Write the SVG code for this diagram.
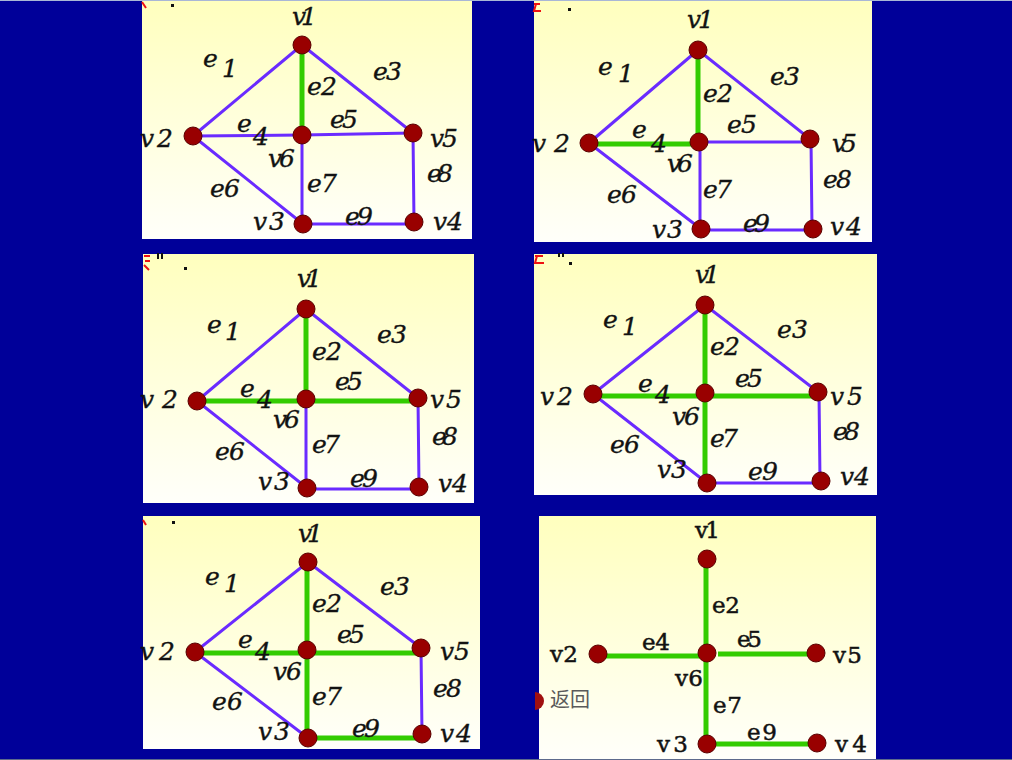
<svg xmlns="http://www.w3.org/2000/svg" width="1012" height="760" viewBox="0 0 1012 760">
<defs>
<linearGradient id="bg" x1="0" y1="0" x2="0" y2="1">
<stop offset="0" stop-color="#ffffbe"/>
<stop offset="1" stop-color="#fffffa"/>
</linearGradient>
<clipPath id="btnclip"><rect x="535" y="680" width="12" height="40"/></clipPath>
<style>
.pnl{fill:url(#bg)}
.pu{stroke:#6a2bff;stroke-width:3;stroke-linecap:round}
.pg{stroke:#33cc00;stroke-width:5}
.nd{fill:#990000;stroke:#5a0000;stroke-width:1}
.lb{font-family:"DejaVu Serif","Liberation Serif",serif;font-style:italic;font-size:25px;fill:#121212;stroke:#121212;stroke-width:0.35}
.lr{font-family:"DejaVu Serif","Liberation Serif",serif;font-size:23px;fill:#121212;stroke:#121212;stroke-width:0.5}
.bk{fill:#111}
</style>
</defs>
<rect x="0" y="0" width="1012" height="760" fill="#000099"/>
<rect x="0" y="0" width="1012" height="1" fill="#a9b7d6"/>
<rect x="0" y="759" width="1012" height="1" fill="#5d6a8c"/>

<!-- panels -->
<rect class="pnl" x="142" y="1" width="330" height="238"/>
<rect class="pnl" x="534" y="1" width="338" height="241"/>
<rect class="pnl" x="143" y="254" width="331" height="249"/>
<rect class="pnl" x="534" y="254" width="343" height="241"/>
<rect class="pnl" x="143" y="516" width="337" height="233"/>
<rect class="pnl" x="539" y="516" width="337" height="243"/>

<!-- cropped fragments -->
<g id="fragments">
<path d="M142 2 L146 8" stroke="#ee1111" stroke-width="2"/>
<rect class="bk" x="171" y="4" width="3" height="3"/>
<path d="M534 4 L540 4 M536 4 L534 11 L541 11" stroke="#ee1111" stroke-width="2" fill="none"/>
<rect class="bk" x="568" y="8" width="3" height="3"/>
<path d="M144 256 L150 256 M145 261 L150 261 M144 265 L149 270" stroke="#ee1111" stroke-width="2" fill="none"/>
<rect class="bk" x="157" y="253" width="2" height="6"/>
<rect class="bk" x="161" y="253" width="2" height="6"/>
<rect class="bk" x="184" y="267" width="3" height="3"/>
<path d="M535 256 L543 256 M537 256 L535 263 L544 263" stroke="#ee1111" stroke-width="2" fill="none"/>
<rect class="bk" x="558" y="253" width="2" height="4"/>
<rect class="bk" x="562" y="253" width="2" height="4"/>
<rect class="bk" x="569" y="262" width="3" height="3"/>
<path d="M143 520 L146 525" stroke="#ee1111" stroke-width="2"/>
<rect class="bk" x="172" y="521" width="3" height="3"/>
</g>

<!-- connectors -->
<g id="connectors">
<!-- panel 1 -->
<line class="pu" x1="193" y1="136" x2="302" y2="45"/>
<line class="pu" x1="302" y1="45" x2="413" y2="133"/>
<line class="pu" x1="193" y1="136" x2="302" y2="135"/>
<line class="pu" x1="302" y1="135" x2="413" y2="133"/>
<line class="pu" x1="193" y1="136" x2="303" y2="224"/>
<line class="pu" x1="302" y1="135" x2="302" y2="224"/>
<line class="pu" x1="413" y1="133" x2="414" y2="222"/>
<line class="pu" x1="303" y1="224" x2="414" y2="224"/>
<line class="pg" x1="302" y1="45" x2="302" y2="135"/>
<!-- panel 2 -->
<line class="pu" x1="589" y1="143" x2="698" y2="50"/>
<line class="pu" x1="698" y1="50" x2="810" y2="139"/>
<line class="pu" x1="699" y1="142" x2="810" y2="142"/>
<line class="pu" x1="589" y1="143" x2="701" y2="229"/>
<line class="pu" x1="700" y1="142" x2="700" y2="229"/>
<line class="pu" x1="811" y1="139" x2="812" y2="229"/>
<line class="pu" x1="701" y1="230" x2="813" y2="230"/>
<line class="pg" x1="698" y1="50" x2="698" y2="142"/>
<line class="pg" x1="589" y1="144" x2="699" y2="144"/>
<!-- panel 3 -->
<line class="pu" x1="197" y1="401" x2="306" y2="309"/>
<line class="pu" x1="306" y1="309" x2="418" y2="398"/>
<line class="pu" x1="197" y1="401" x2="307" y2="488"/>
<line class="pu" x1="306" y1="399" x2="306" y2="488"/>
<line class="pu" x1="418" y1="398" x2="419" y2="487"/>
<line class="pu" x1="307" y1="489" x2="419" y2="489"/>
<line class="pg" x1="306" y1="309" x2="306" y2="399"/>
<line class="pg" x1="197" y1="401" x2="306" y2="401"/>
<line class="pg" x1="306" y1="401" x2="418" y2="401"/>
<!-- panel 4 -->
<line class="pu" x1="593" y1="394" x2="705" y2="305"/>
<line class="pu" x1="705" y1="305" x2="818" y2="392"/>
<line class="pu" x1="593" y1="394" x2="707" y2="483"/>
<line class="pu" x1="819" y1="392" x2="820" y2="481"/>
<line class="pu" x1="707" y1="483" x2="821" y2="483"/>
<line class="pg" x1="705" y1="305" x2="705" y2="393"/>
<line class="pg" x1="593" y1="396" x2="705" y2="396"/>
<line class="pg" x1="705" y1="396" x2="818" y2="396"/>
<line class="pg" x1="705" y1="393" x2="705" y2="483"/>
<!-- panel 5 -->
<line class="pu" x1="195" y1="652" x2="308" y2="562"/>
<line class="pu" x1="308" y1="562" x2="421" y2="648"/>
<line class="pu" x1="195" y1="652" x2="308" y2="738"/>
<line class="pu" x1="421" y1="648" x2="422" y2="734"/>
<line class="pg" x1="307" y1="562" x2="307" y2="650"/>
<line class="pg" x1="195" y1="653" x2="307" y2="653"/>
<line class="pg" x1="307" y1="653" x2="421" y2="653"/>
<line class="pg" x1="307" y1="650" x2="307" y2="738"/>
<line class="pg" x1="308" y1="738" x2="422" y2="738"/>
<!-- panel 6 -->
<line class="pg" x1="706" y1="559" x2="706" y2="653"/>
<line class="pg" x1="598" y1="656" x2="706" y2="656"/>
<line class="pg" x1="718" y1="654" x2="816" y2="654"/>
<line class="pg" x1="706" y1="653" x2="706" y2="744"/>
<line class="pg" x1="707" y1="744" x2="817" y2="744"/>
</g>

<!-- nodes -->
<g id="p1-v1"><circle class="nd" cx="302" cy="45" r="9"/><text class="lb" x="292" y="25" textLength="25" lengthAdjust="spacing">v1</text></g>
<g id="p1-v2"><circle class="nd" cx="193" cy="136" r="9"/><text class="lb" x="140" y="147" textLength="33" lengthAdjust="spacing">v2</text></g>
<g id="p1-v6"><circle class="nd" cx="302" cy="135" r="9"/><text class="lb" x="268" y="167" textLength="27" lengthAdjust="spacing">v6</text></g>
<g id="p1-v5"><circle class="nd" cx="413" cy="133" r="9"/><text class="lb" x="430" y="147" textLength="28" lengthAdjust="spacing">v5</text></g>
<g id="p1-v3"><circle class="nd" cx="303" cy="224" r="9"/><text class="lb" x="253" y="230" textLength="32" lengthAdjust="spacing">v3</text></g>
<g id="p1-v4"><circle class="nd" cx="414" cy="222" r="9"/><text class="lb" x="433" y="230" textLength="30" lengthAdjust="spacing">v4</text></g>

<g id="p2-v1"><circle class="nd" cx="698" cy="50" r="9"/><text class="lb" x="687" y="28" textLength="27" lengthAdjust="spacing">v1</text></g>
<g id="p2-v2"><circle class="nd" cx="589" cy="143" r="9"/><text class="lb" x="532" y="152" textLength="38" lengthAdjust="spacing">v2</text></g>
<g id="p2-v6"><circle class="nd" cx="699" cy="142" r="9"/><text class="lb" x="667" y="172" textLength="26" lengthAdjust="spacing">v6</text></g>
<g id="p2-v5"><circle class="nd" cx="810" cy="139" r="9"/><text class="lb" x="832" y="152" textLength="25" lengthAdjust="spacing">v5</text></g>
<g id="p2-v3"><circle class="nd" cx="701" cy="229" r="9"/><text class="lb" x="652" y="238" textLength="31" lengthAdjust="spacing">v3</text></g>
<g id="p2-v4"><circle class="nd" cx="813" cy="229" r="9"/><text class="lb" x="830" y="235" textLength="32" lengthAdjust="spacing">v4</text></g>

<g id="p3-v1"><circle class="nd" cx="306" cy="309" r="9"/><text class="lb" x="297" y="287" textLength="25" lengthAdjust="spacing">v1</text></g>
<g id="p3-v2"><circle class="nd" cx="197" cy="401" r="9"/><text class="lb" x="140" y="408" textLength="38" lengthAdjust="spacing">v2</text></g>
<g id="p3-v6"><circle class="nd" cx="306" cy="399" r="9"/><text class="lb" x="273" y="428" textLength="27" lengthAdjust="spacing">v6</text></g>
<g id="p3-v5"><circle class="nd" cx="418" cy="398" r="9"/><text class="lb" x="430" y="408" textLength="32" lengthAdjust="spacing">v5</text></g>
<g id="p3-v3"><circle class="nd" cx="307" cy="488" r="9"/><text class="lb" x="258" y="490" textLength="32" lengthAdjust="spacing">v3</text></g>
<g id="p3-v4"><circle class="nd" cx="419" cy="487" r="9"/><text class="lb" x="438" y="492" textLength="30" lengthAdjust="spacing">v4</text></g>

<g id="p4-v1"><circle class="nd" cx="705" cy="305" r="9"/><text class="lb" x="695" y="283" textLength="25" lengthAdjust="spacing">v1</text></g>
<g id="p4-v2"><circle class="nd" cx="593" cy="394" r="9"/><text class="lb" x="540" y="405" textLength="33" lengthAdjust="spacing">v2</text></g>
<g id="p4-v6"><circle class="nd" cx="705" cy="393" r="9"/><text class="lb" x="672" y="425" textLength="28" lengthAdjust="spacing">v6</text></g>
<g id="p4-v5"><circle class="nd" cx="818" cy="392" r="9"/><text class="lb" x="830" y="405" textLength="33" lengthAdjust="spacing">v5</text></g>
<g id="p4-v3"><circle class="nd" cx="707" cy="483" r="9"/><text class="lb" x="657" y="478" textLength="30" lengthAdjust="spacing">v3</text></g>
<g id="p4-v4"><circle class="nd" cx="821" cy="481" r="9"/><text class="lb" x="840" y="485" textLength="30" lengthAdjust="spacing">v4</text></g>

<g id="p5-v1"><circle class="nd" cx="308" cy="562" r="9"/><text class="lb" x="298" y="542" textLength="25" lengthAdjust="spacing">v1</text></g>
<g id="p5-v2"><circle class="nd" cx="195" cy="652" r="9"/><text class="lb" x="140" y="660" textLength="35" lengthAdjust="spacing">v2</text></g>
<g id="p5-v6"><circle class="nd" cx="307" cy="650" r="9"/><text class="lb" x="273" y="680" textLength="29" lengthAdjust="spacing">v6</text></g>
<g id="p5-v5"><circle class="nd" cx="421" cy="648" r="9"/><text class="lb" x="440" y="660" textLength="30" lengthAdjust="spacing">v5</text></g>
<g id="p5-v3"><circle class="nd" cx="308" cy="738" r="9"/><text class="lb" x="258" y="740" textLength="32" lengthAdjust="spacing">v3</text></g>
<g id="p5-v4"><circle class="nd" cx="422" cy="734" r="9"/><text class="lb" x="440" y="742" textLength="32" lengthAdjust="spacing">v4</text></g>

<g id="p6-v1"><circle class="nd" cx="707" cy="559" r="9"/><text class="lr" x="695" y="538" textLength="25" lengthAdjust="spacing">v1</text></g>
<g id="p6-v2"><circle class="nd" cx="598" cy="654" r="9"/><text class="lr" x="550" y="662" textLength="28" lengthAdjust="spacing">v2</text></g>
<g id="p6-v6"><circle class="nd" cx="707" cy="653" r="9"/><text class="lr" x="675" y="686" textLength="28" lengthAdjust="spacing">v6</text></g>
<g id="p6-v5"><circle class="nd" cx="816" cy="653" r="9"/><text class="lr" x="833" y="663" textLength="29" lengthAdjust="spacing">v5</text></g>
<g id="p6-v3"><circle class="nd" cx="707" cy="744" r="9"/><text class="lr" x="657" y="752" textLength="31" lengthAdjust="spacing">v3</text></g>
<g id="p6-v4"><circle class="nd" cx="817" cy="743" r="9"/><text class="lr" x="835" y="752" textLength="32" lengthAdjust="spacing">v4</text></g>

<!-- edge labels -->
<g id="edge-labels">
<!-- panel 1 -->
<text class="lb"><tspan x="203" y="67">e</tspan><tspan x="222" y="77">1</tspan></text>
<text class="lb" x="307" y="95" textLength="30" lengthAdjust="spacing">e2</text>
<text class="lb" x="373" y="80" textLength="29" lengthAdjust="spacing">e3</text>
<text class="lb"><tspan x="237" y="132">e</tspan><tspan x="253" y="145">4</tspan></text>
<text class="lb" x="330" y="128" textLength="28" lengthAdjust="spacing">e5</text>
<text class="lb" x="210" y="197" textLength="30" lengthAdjust="spacing">e6</text>
<text class="lb" x="307" y="192" textLength="30" lengthAdjust="spacing">e7</text>
<text class="lb" x="427" y="182" textLength="26" lengthAdjust="spacing">e8</text>
<text class="lb" x="345" y="225" textLength="28" lengthAdjust="spacing">e9</text>
<!-- panel 2 -->
<text class="lb"><tspan x="598" y="75">e</tspan><tspan x="618" y="82">1</tspan></text>
<text class="lb" x="703" y="102" textLength="30" lengthAdjust="spacing">e2</text>
<text class="lb" x="770" y="85" textLength="30" lengthAdjust="spacing">e3</text>
<text class="lb"><tspan x="632" y="138">e</tspan><tspan x="651" y="152">4</tspan></text>
<text class="lb" x="727" y="133" textLength="30" lengthAdjust="spacing">e5</text>
<text class="lb" x="607" y="203" textLength="30" lengthAdjust="spacing">e6</text>
<text class="lb" x="703" y="198" textLength="29" lengthAdjust="spacing">e7</text>
<text class="lb" x="823" y="188" textLength="29" lengthAdjust="spacing">e8</text>
<text class="lb" x="743" y="232" textLength="27" lengthAdjust="spacing">e9</text>
<!-- panel 3 -->
<text class="lb"><tspan x="207" y="333">e</tspan><tspan x="225" y="340">1</tspan></text>
<text class="lb" x="312" y="360" textLength="30" lengthAdjust="spacing">e2</text>
<text class="lb" x="377" y="343" textLength="30" lengthAdjust="spacing">e3</text>
<text class="lb"><tspan x="240" y="397">e</tspan><tspan x="257" y="408">4</tspan></text>
<text class="lb" x="335" y="390" textLength="28" lengthAdjust="spacing">e5</text>
<text class="lb" x="215" y="460" textLength="30" lengthAdjust="spacing">e6</text>
<text class="lb" x="312" y="453" textLength="28" lengthAdjust="spacing">e7</text>
<text class="lb" x="432" y="445" textLength="26" lengthAdjust="spacing">e8</text>
<text class="lb" x="350" y="487" textLength="28" lengthAdjust="spacing">e9</text>
<!-- panel 4 -->
<text class="lb"><tspan x="603" y="328">e</tspan><tspan x="622" y="335">1</tspan></text>
<text class="lb" x="710" y="355" textLength="30" lengthAdjust="spacing">e2</text>
<text class="lb" x="777" y="338" textLength="31" lengthAdjust="spacing">e3</text>
<text class="lb"><tspan x="638" y="392">e</tspan><tspan x="655" y="403">4</tspan></text>
<text class="lb" x="735" y="387" textLength="28" lengthAdjust="spacing">e5</text>
<text class="lb" x="610" y="453" textLength="30" lengthAdjust="spacing">e6</text>
<text class="lb" x="710" y="447" textLength="28" lengthAdjust="spacing">e7</text>
<text class="lb" x="833" y="440" textLength="27" lengthAdjust="spacing">e8</text>
<text class="lb" x="748" y="480" textLength="30" lengthAdjust="spacing">e9</text>
<!-- panel 5 -->
<text class="lb"><tspan x="205" y="585">e</tspan><tspan x="224" y="592">1</tspan></text>
<text class="lb" x="312" y="612" textLength="30" lengthAdjust="spacing">e2</text>
<text class="lb" x="380" y="595" textLength="30" lengthAdjust="spacing">e3</text>
<text class="lb"><tspan x="238" y="648">e</tspan><tspan x="255" y="660">4</tspan></text>
<text class="lb" x="337" y="643" textLength="28" lengthAdjust="spacing">e5</text>
<text class="lb" x="212" y="710" textLength="31" lengthAdjust="spacing">e6</text>
<text class="lb" x="312" y="705" textLength="30" lengthAdjust="spacing">e7</text>
<text class="lb" x="433" y="697" textLength="29" lengthAdjust="spacing">e8</text>
<text class="lb" x="352" y="737" textLength="28" lengthAdjust="spacing">e9</text>
<!-- panel 6 -->
<text class="lr" x="712" y="613" textLength="28" lengthAdjust="spacing">e2</text>
<text class="lr" x="642" y="650" textLength="28" lengthAdjust="spacing">e4</text>
<text class="lr" x="737" y="647" textLength="25" lengthAdjust="spacing">e5</text>
<text class="lr" x="713" y="713" textLength="29" lengthAdjust="spacing">e7</text>
<text class="lr" x="747" y="740" textLength="30" lengthAdjust="spacing">e9</text>
</g>

<!-- return button -->
<g id="return">
<circle cx="535" cy="701" r="9" fill="#a01010" clip-path="url(#btnclip)"/>
<text x="550" y="707" font-family="'Noto Sans CJK SC', sans-serif" font-size="20" fill="#5a5a5a">返回</text>
</g>
</svg>
